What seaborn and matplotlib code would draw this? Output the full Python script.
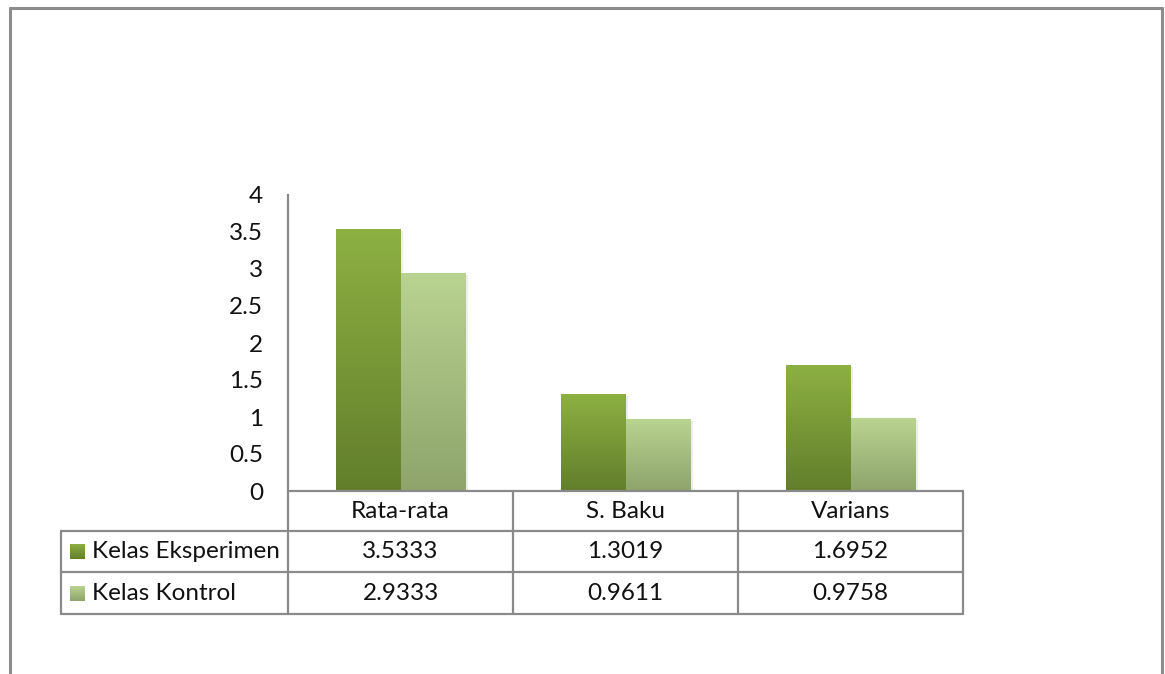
import numpy as np
import pandas as pd
import matplotlib
matplotlib.use('Agg')
import matplotlib.pyplot as plt
import seaborn as sns
from matplotlib.colors import LinearSegmentedColormap
from matplotlib.transforms import blended_transform_factory

# data
kategori = ['Rata-rata', 'S. Baku', 'Varians']
kelompok = ['Kelas Eksperimen', 'Kelas Kontrol']
eksperimen = [3.5333, 1.3019, 1.6952]
kontrol = [2.9333, 0.9611, 0.9758]
yticks = [0, 0.5, 1, 1.5, 2, 2.5, 3, 3.5, 4]
ytick_labels = ['0', '0.5', '1', '1.5', '2', '2.5', '3', '3.5', '4']

df = pd.DataFrame({
    'kategori': kategori * 2,
    'kelompok': [kelompok[0]] * 3 + [kelompok[1]] * 3,
    'nilai': eksperimen + kontrol,
})

# gradient colours (top, bottom)
warna = {
    'Kelas Eksperimen': ('#8db042', '#627e2b'),
    'Kelas Kontrol': ('#b9d391', '#8ea46b'),
}

sns.set_theme(style='white')
plt.rcParams['font.family'] = ['Lato', 'DejaVu Sans']
FS = 17.5

W, H = 1165, 674
fig = plt.figure(figsize=(W / 100, H / 100), dpi=100)

def fx(x):
    return x / W

def fy(y):
    return 1 - y / H

ax = fig.add_axes([fx(288), fy(491), fx(963) - fx(288), fy(195) - fy(491)])
sns.barplot(data=df, x='kategori', y='nilai', hue='kelompok', order=kategori,
            hue_order=kelompok, palette=[warna[k][0] for k in kelompok],
            width=0.575, gap=0, legend=False, ax=ax, zorder=3)

grad = np.linspace(0, 1, 256).reshape(-1, 1)
bars = list(ax.patches)
for i, p in enumerate(bars):
    k = kelompok[i // len(kategori)]
    cmap = LinearSegmentedColormap.from_list(k, [warna[k][0], warna[k][1]])
    x0, y0 = p.get_x(), p.get_y()
    w, h = p.get_width(), p.get_height()
    # soft shadow
    ax.add_patch(plt.Rectangle((x0 + 0.012, y0), w, h - 0.02, color='#000000',
                               alpha=0.07, lw=0, zorder=2))
    ax.imshow(grad, extent=[x0, x0 + w, y0, y0 + h], aspect='auto', cmap=cmap,
              zorder=4, interpolation='bilinear')
    p.set_alpha(0)

ax.set_xlim(-0.5, len(kategori) - 0.5)
ax.set_ylim(0, 4)
ax.set_yticks(yticks)
ax.set_yticklabels(ytick_labels, fontsize=FS, color='#111111')
ax.tick_params(axis='y', length=0, pad=18)
ax.set_xticks([])
ax.set_xlabel('')
ax.set_ylabel('')
for s in ['top', 'right', 'bottom']:
    ax.spines[s].set_visible(False)
ax.spines['left'].set_color('#8a8a8a')
ax.spines['left'].set_linewidth(1.6)
ax.patch.set_alpha(0)

# data table below the axis
garis = '#8a8a8a'
tr = blended_transform_factory(ax.transData, fig.transFigure)
baris = [491, 531, 572, 614]
kiri = fx(61)

def hline(x0, x1, y):
    fig.add_artist(plt.Line2D([x0, x1], [fy(y), fy(y)], color=garis, lw=1.6))

def vline(x, y0, y1):
    fig.add_artist(plt.Line2D([x, x], [fy(y0), fy(y1)], color=garis, lw=1.6))

hline(fx(288), fx(963), baris[0])
for y in baris[1:]:
    hline(kiri, fx(963), y)
vline(kiri, baris[1], baris[3])
edges = ax.transAxes.transform([[0, 0], [1 / 3, 0], [2 / 3, 0], [1, 0]])
for ex, _ in edges:
    vline(fig.transFigure.inverted().transform((ex, 0))[0], baris[0], baris[3])

for j, kat in enumerate(kategori):
    fig.text(j, fy((baris[0] + baris[1]) / 2), kat, transform=tr, ha='center',
             va='center', fontsize=FS, color='#111111')
for r, (k, vals) in enumerate(zip(kelompok, [eksperimen, kontrol])):
    yc = (baris[r + 1] + baris[r + 2]) / 2
    for j, v in enumerate(vals):
        fig.text(j, fy(yc), f'{v:.4f}', transform=tr, ha='center', va='center',
                 fontsize=FS, color='#111111')
    fig.text(fx(92), fy(yc), k, ha='left', va='center', fontsize=FS, color='#111111')
    sq = fig.add_axes([fx(70), fy(yc + 7.5), fx(15), 15 / H])
    sq.imshow(grad, aspect='auto', cmap=LinearSegmentedColormap.from_list(
        k + 'sq', [warna[k][0], warna[k][1]]), interpolation='bilinear')
    sq.axis('off')

# outer frame (bottom edge cut off)
bingkai = '#8c8c8c'
fig.add_artist(plt.Line2D([fx(10), fx(10)], [fy(8), 0], color=bingkai, lw=2.2))
fig.add_artist(plt.Line2D([fx(10), fx(1162)], [fy(8), fy(8)], color=bingkai, lw=2.2))
fig.add_artist(plt.Line2D([fx(1162), fx(1162)], [fy(8), 0], color=bingkai, lw=2.2))

fig.savefig('out.png', dpi=100)
